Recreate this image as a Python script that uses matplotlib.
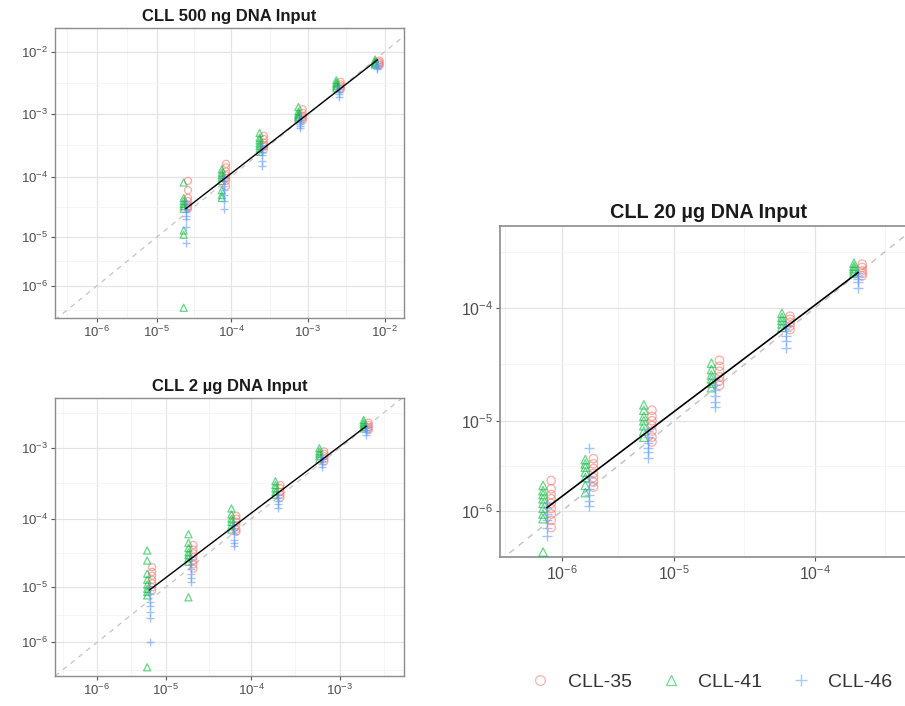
import numpy as np
import matplotlib.pyplot as plt
from matplotlib.lines import Line2D

plt.rcParams['font.family'] = ['Liberation Sans', 'DejaVu Sans']
plt.rcParams['mathtext.fontset'] = 'custom'
plt.rcParams['mathtext.rm'] = 'Liberation Sans'
plt.rcParams['mathtext.it'] = 'Liberation Sans'

# pseudo-log axis: log10(v + c)
C = 8e-7


def fwd(v):
    return np.log10(np.maximum(np.asarray(v, dtype=float) + C, 1e-12))


def inv(g):
    return 10 ** np.asarray(g, dtype=float) - C


samples = ["CLL-35", "CLL-41", "CLL-46"]
colors = ["#F8766D", "#00BA38", "#619CFF"]
markers = ["o", "^", "+"]

# ---- CLL 500 ng DNA input ----
levels_500ng = [2.5e-5, 8e-5, 2.5e-4, 8e-4, 2.5e-3, 8e-3]
cll35_500ng = [
    [8.5e-5, 6e-5, 4.5e-5, 4e-5, 3.5e-5, 3.2e-5, 3e-5],
    [1.6e-4, 1.4e-4, 1.2e-4, 1.05e-4, 9.5e-5, 8.5e-5, 7e-5],
    [4.5e-4, 4e-4, 3.5e-4, 3.2e-4, 3e-4, 2.7e-4],
    [1.2e-3, 1.05e-3, 9.5e-4, 9e-4, 8.5e-4, 8e-4],
    [3.3e-3, 3e-3, 2.8e-3, 2.6e-3, 2.5e-3],
    [7.2e-3, 6.8e-3, 6.5e-3, 6.2e-3, 6e-3],
]
cll41_500ng = [
    [8e-5, 4.5e-5, 4e-5, 3.6e-5, 3.3e-5, 3e-5, 1.3e-5, 1.1e-5, 0.0],
    [1.3e-4, 1.15e-4, 1.05e-4, 9.5e-5, 8.5e-5, 6e-5, 5e-5, 4.5e-5],
    [5e-4, 4.2e-4, 3.8e-4, 3.4e-4, 3.1e-4, 2.8e-4, 2.5e-4],
    [1.3e-3, 1.1e-3, 1e-3, 9.5e-4, 9e-4, 8.5e-4],
    [3.5e-3, 3.2e-3, 3e-3, 2.8e-3, 2.6e-3],
    [7.5e-3, 7e-3, 6.7e-3, 6.4e-3, 6.2e-3],
]
cll46_500ng = [
    [3.8e-5, 3e-5, 2.6e-5, 2.3e-5, 2e-5, 1.5e-5, 8e-6],
    [1e-4, 8.5e-5, 7e-5, 6e-5, 5e-5, 4e-5, 3e-5],
    [3.2e-4, 2.8e-4, 2.5e-4, 2.2e-4, 1.8e-4, 1.5e-4],
    [9e-4, 8e-4, 7.5e-4, 7e-4, 6.5e-4, 6e-4],
    [2.7e-3, 2.5e-3, 2.3e-3, 2.1e-3, 1.9e-3],
    [6.5e-3, 6.2e-3, 5.8e-3, 5.5e-3, 5.2e-3],
]

# ---- CLL 2 ug DNA input ----
levels_2ug = [6.3e-6, 2e-5, 6.3e-5, 2e-4, 6.3e-4, 2e-3]
cll35_2ug = [
    [2e-5, 1.7e-5, 1.5e-5, 1.3e-5, 1.15e-5, 1e-5, 9e-6],
    [4.2e-5, 3.6e-5, 3.2e-5, 2.8e-5, 2.5e-5, 2.2e-5, 1.9e-5],
    [1.1e-4, 1e-4, 9e-5, 8e-5, 7e-5, 6.5e-5],
    [3e-4, 2.7e-4, 2.4e-4, 2.2e-4, 2e-4],
    [9e-4, 8.3e-4, 7.7e-4, 7e-4, 6.5e-4],
    [2.3e-3, 2.15e-3, 2e-3, 1.9e-3, 1.8e-3],
]
cll41_2ug = [
    [3.5e-5, 2.5e-5, 1.6e-5, 1.3e-5, 1.1e-5, 9.5e-6, 8.5e-6, 7.5e-6, 0.0],
    [6e-5, 4.5e-5, 3.8e-5, 3.3e-5, 3e-5, 2.7e-5, 2.4e-5, 7e-6],
    [1.4e-4, 1.15e-4, 1e-4, 9e-5, 8e-5, 7e-5],
    [3.4e-4, 3e-4, 2.7e-4, 2.4e-4, 2.2e-4],
    [1e-3, 9e-4, 8.3e-4, 7.7e-4, 7e-4],
    [2.5e-3, 2.3e-3, 2.15e-3, 2e-3, 1.9e-3],
]
cll46_2ug = [
    [1e-5, 8e-6, 6e-6, 5e-6, 4e-6, 3.2e-6, 1e-6],
    [2.6e-5, 2.2e-5, 1.9e-5, 1.6e-5, 1.4e-5, 1.2e-5],
    [8e-5, 7e-5, 6e-5, 5e-5, 4.5e-5, 4e-5],
    [2.2e-4, 2e-4, 1.8e-4, 1.6e-4, 1.4e-4],
    [7.5e-4, 7e-4, 6.5e-4, 6e-4, 5.5e-4],
    [2e-3, 1.9e-3, 1.8e-3, 1.7e-3, 1.55e-3],
]

# ---- CLL 20 ug DNA input ----
levels_20ug = [6.3e-7, 2e-6, 6.3e-6, 2e-5, 6.3e-5, 2e-4]
cll35_20ug = [
    [2.5e-6, 2e-6, 1.7e-6, 1.5e-6, 1.3e-6, 1.1e-6, 9e-7, 7e-7, 5e-7],
    [4.3e-6, 3.8e-6, 3.4e-6, 3e-6, 2.7e-6, 2.4e-6, 2.1e-6],
    [1.25e-5, 1.1e-5, 1e-5, 9e-6, 8e-6, 7e-6, 6.3e-6],
    [3.5e-5, 3.1e-5, 2.8e-5, 2.5e-5, 2.3e-5, 2.1e-5],
    [8.5e-5, 8e-5, 7.5e-5, 7e-5, 6.5e-5],
    [2.4e-4, 2.25e-4, 2.1e-4, 2e-4, 1.9e-4],
]
cll41_20ug = [
    [2.2e-6, 1.9e-6, 1.7e-6, 1.5e-6, 1.3e-6, 1.1e-6, 9e-7, 7.5e-7, 0.0],
    [4.2e-6, 3.8e-6, 3.5e-6, 3.1e-6, 2.7e-6, 2.2e-6, 1.8e-6],
    [1.4e-5, 1.25e-5, 1.1e-5, 1e-5, 9e-6, 8e-6, 7e-6],
    [3.3e-5, 2.9e-5, 2.6e-5, 2.4e-5, 2.2e-5, 2e-5],
    [9e-5, 8.3e-5, 7.8e-5, 7.3e-5, 6.8e-5],
    [2.45e-4, 2.3e-4, 2.2e-4, 2.1e-4, 2e-4],
]
cll46_20ug = [
    [1.3e-6, 1.1e-6, 9e-7, 7e-7, 5e-7, 3e-7],
    [5.5e-6, 2.8e-6, 2.4e-6, 2e-6, 1.7e-6, 1.4e-6, 1.2e-6],
    [8e-6, 7e-6, 6.2e-6, 5.5e-6, 5e-6, 4.4e-6],
    [2.4e-5, 2.1e-5, 1.9e-5, 1.7e-5, 1.5e-5, 1.35e-5],
    [7e-5, 6.3e-5, 5.7e-5, 5.2e-5, 4.5e-5],
    [2e-4, 1.9e-4, 1.8e-4, 1.7e-4, 1.5e-4],
]

dodge = [0.028, -0.028, 0.0]  # red right, green left, blue centre (transformed units)


def decade_ticks(ax, exps_x, exps_y, glim_x, glim_y, fs):
    for axis, exps, glim in ((ax.xaxis, exps_x, glim_x), (ax.yaxis, exps_y, glim_y)):
        major = [10.0 ** e for e in exps]
        gm = fwd(major)
        step = gm[-1] - gm[-2]
        mids = list((gm[:-1] + gm[1:]) / 2) + [gm[-1] + step / 2, gm[0] - (gm[1] - gm[0]) / 2]
        mids = [m for m in mids if glim[0] < m < glim[1]]
        axis.set_ticks(major)
        axis.set_ticklabels([r'$10^{%d}$' % e for e in exps])
        axis.set_ticks(list(inv(mids)), minor=True)
    ax.tick_params(which='major', labelsize=fs, labelcolor='#4D4D4D', color='#555555',
                   length=3, width=0.8, pad=2)
    ax.tick_params(which='minor', length=0)
    ax.grid(which='major', color='#E4E4E4', lw=0.9)
    ax.grid(which='minor', color='#F1F1F1', lw=0.5)
    ax.set_axisbelow(True)


def draw_panel(ax, title, levels, obs, glim_x, glim_y, exps_x, exps_y, scale):
    ax.set_xscale('function', functions=(fwd, inv))
    ax.set_yscale('function', functions=(fwd, inv))
    ax.set_xlim(inv(glim_x[0]), inv(glim_x[1]))
    ax.set_ylim(inv(glim_y[0]), inv(glim_y[1]))

    g = np.linspace(min(glim_x[0], glim_y[0]), max(glim_x[1], glim_y[1]), 100)
    ax.plot(inv(g), inv(g), ls=(0, (4, 4)), color='#C4C4C4', lw=0.9 * scale, zorder=1)

    allx, ally = [], []
    for k in range(3):
        xs, ys = [], []
        for lvl, vals in zip(levels, obs[k]):
            xs += [float(inv(fwd(lvl) + dodge[k]))] * len(vals)
            ys += vals
            allx += [lvl] * len(vals)
            ally += vals
        if markers[k] == '+':
            ax.scatter(xs, ys, marker='+', c=colors[k], s=32 * scale ** 2, lw=1.0, alpha=0.6, zorder=3)
        else:
            ax.scatter(xs, ys, marker=markers[k], facecolors='none', edgecolors=colors[k],
                       s=26 * scale ** 2, lw=0.9, alpha=0.6, zorder=3)

    allx = np.array(allx)
    ally = np.array(ally)
    keep = ally > 0
    p = np.polyfit(fwd(allx[keep]), fwd(ally[keep]), 1)
    ends = np.array([levels[0], levels[-1]])
    ax.plot(ends, inv(np.polyval(p, fwd(ends))), color='black', lw=1.0 * scale, zorder=4)

    decade_ticks(ax, exps_x, exps_y, glim_x, glim_y, 9.5 * scale)
    for s in ax.spines.values():
        s.set_color('#8C8C8C')
        s.set_linewidth(1.0 * scale)
    ax.set_title(title, fontsize=12 * scale, fontweight='bold', color='#1A1A1A', pad=5 * scale)


fig = plt.figure(figsize=(9.05, 7.06), dpi=100)

ax1 = fig.add_axes([0.0608, 0.5496, 0.3856, 0.4108])
draw_panel(ax1, "CLL 500 ng DNA Input", levels_500ng,
           [cll35_500ng, cll41_500ng, cll46_500ng],
           (-6.29, -1.75), (-6.26, -1.62), range(-6, -1), range(-6, -1), 1.0)

ax2 = fig.add_axes([0.0608, 0.0425, 0.3856, 0.3938])
draw_panel(ax2, "CLL 2 \u00b5g DNA Input", levels_2ug,
           [cll35_2ug, cll41_2ug, cll46_2ug],
           (-6.22, -2.27), (-6.22, -2.29), range(-6, -2), range(-6, -2), 1.0)

ax3 = fig.add_axes([0.5525, 0.211, 0.4608, 0.4688])
draw_panel(ax3, "CLL 20 \u00b5g DNA Input", levels_20ug,
           [cll35_20ug, cll41_20ug, cll46_20ug],
           (-6.17, -3.29), (-6.14, -3.29), range(-6, -3), range(-6, -3), 1.19)

handles = []
for k in range(3):
    if markers[k] == '+':
        handles.append(Line2D([], [], ls='none', marker='+', color=colors[k], ms=8.5, mew=1.0, alpha=0.55))
    else:
        handles.append(Line2D([], [], ls='none', marker=markers[k], mfc='none', mec=colors[k],
                              ms=7, mew=0.9, alpha=0.55))
leg = fig.legend(handles, samples, loc='center', bbox_to_anchor=(0.785, 0.034), ncol=3,
                 frameon=False, fontsize=14, handletextpad=0.8, columnspacing=1.4,
                 handlelength=1.2)
for t in leg.get_texts():
    t.set_color('#333333')

fig.savefig('out.png', dpi=100)
